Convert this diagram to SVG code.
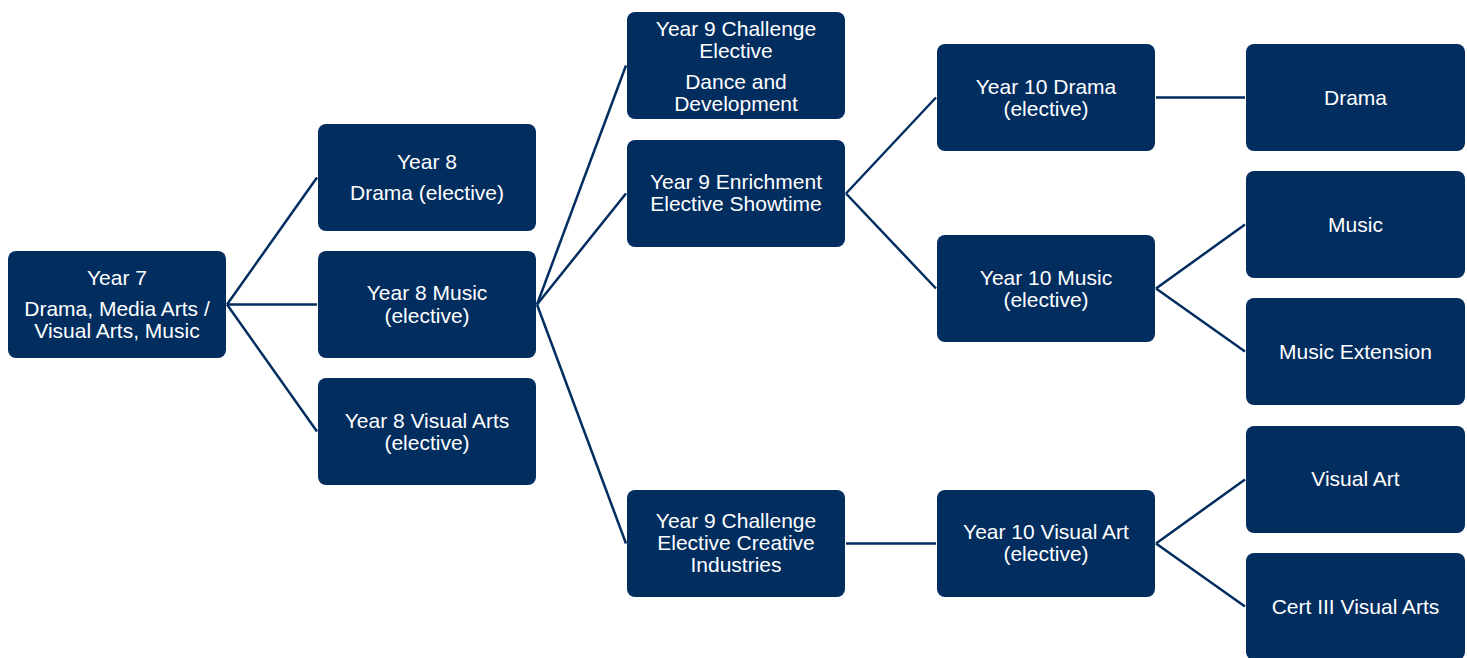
<svg xmlns="http://www.w3.org/2000/svg" width="1467" height="658" viewBox="0 0 1467 658">
<style>
.n rect{fill:#012d5f;}
.n text{fill:#ffffff;font-family:"Liberation Sans",Arial,sans-serif;font-size:21px;text-anchor:middle;}
.c line{stroke:#012d5f;stroke-width:2.5;fill:none;}
</style>
<rect width="1467" height="658" fill="#ffffff"/>
<g id="connectors" class="c">
<line x1="227" y1="304.5" x2="317" y2="177.5"/>
<line x1="227" y1="304.5" x2="317" y2="304.5"/>
<line x1="227" y1="304.5" x2="317" y2="431.5"/>
<line x1="537" y1="304.5" x2="626" y2="65.5"/>
<line x1="537" y1="304.5" x2="626" y2="193.5"/>
<line x1="537" y1="304.5" x2="626" y2="543.5"/>
<line x1="846" y1="193.5" x2="936" y2="97.5"/>
<line x1="846" y1="193.5" x2="936" y2="288.5"/>
<line x1="846" y1="543.5" x2="936" y2="543.5"/>
<line x1="1156" y1="97.5" x2="1245" y2="97.5"/>
<line x1="1156" y1="288.5" x2="1245" y2="224.5"/>
<line x1="1156" y1="288.5" x2="1245" y2="351.5"/>
<line x1="1156" y1="543.5" x2="1245" y2="479.5"/>
<line x1="1156" y1="543.5" x2="1245" y2="606.5"/>
</g>
<g id="y7" class="n"><rect x="8" y="251" width="218" height="107" rx="8"/><text x="117" y="285">Year 7</text><text x="117" y="316">Drama, Media Arts /</text><text x="117" y="338">Visual Arts, Music</text></g>
<g id="y8drama" class="n"><rect x="318" y="124" width="218" height="107" rx="8"/><text x="427" y="169">Year 8</text><text x="427" y="200">Drama (elective)</text></g>
<g id="y8music" class="n"><rect x="318" y="251" width="218" height="107" rx="8"/><text x="427" y="300">Year 8 Music</text><text x="427" y="323">(elective)</text></g>
<g id="y8va" class="n"><rect x="318" y="378" width="218" height="107" rx="8"/><text x="427" y="428">Year 8 Visual Arts</text><text x="427" y="450">(elective)</text></g>
<g id="y9dance" class="n"><rect x="627" y="12" width="218" height="107" rx="8"/><text x="736" y="36">Year 9 Challenge</text><text x="736" y="58">Elective</text><text x="736" y="89">Dance and</text><text x="736" y="111">Development</text></g>
<g id="y9show" class="n"><rect x="627" y="140" width="218" height="107" rx="8"/><text x="736" y="189">Year 9 Enrichment</text><text x="736" y="211">Elective Showtime</text></g>
<g id="y9ci" class="n"><rect x="627" y="490" width="218" height="107" rx="8"/><text x="736" y="528">Year 9 Challenge</text><text x="736" y="550">Elective Creative</text><text x="736" y="572">Industries</text></g>
<g id="y10drama" class="n"><rect x="937" y="44" width="218" height="107" rx="8"/><text x="1046" y="94">Year 10 Drama</text><text x="1046" y="116">(elective)</text></g>
<g id="y10music" class="n"><rect x="937" y="235" width="218" height="107" rx="8"/><text x="1046" y="285">Year 10 Music</text><text x="1046" y="307">(elective)</text></g>
<g id="y10va" class="n"><rect x="937" y="490" width="218" height="107" rx="8"/><text x="1046" y="539">Year 10 Visual Art</text><text x="1046" y="561">(elective)</text></g>
<g id="drama" class="n"><rect x="1246" y="44" width="219" height="107" rx="8"/><text x="1355.5" y="105">Drama</text></g>
<g id="music" class="n"><rect x="1246" y="171" width="219" height="107" rx="8"/><text x="1355.5" y="232">Music</text></g>
<g id="musicext" class="n"><rect x="1246" y="298" width="219" height="107" rx="8"/><text x="1355.5" y="359">Music Extension</text></g>
<g id="visualart" class="n"><rect x="1246" y="426" width="219" height="107" rx="8"/><text x="1355.5" y="486">Visual Art</text></g>
<g id="cert3" class="n"><rect x="1246" y="553" width="219" height="107" rx="8"/><text x="1355.5" y="614">Cert III Visual Arts</text></g>
</svg>
